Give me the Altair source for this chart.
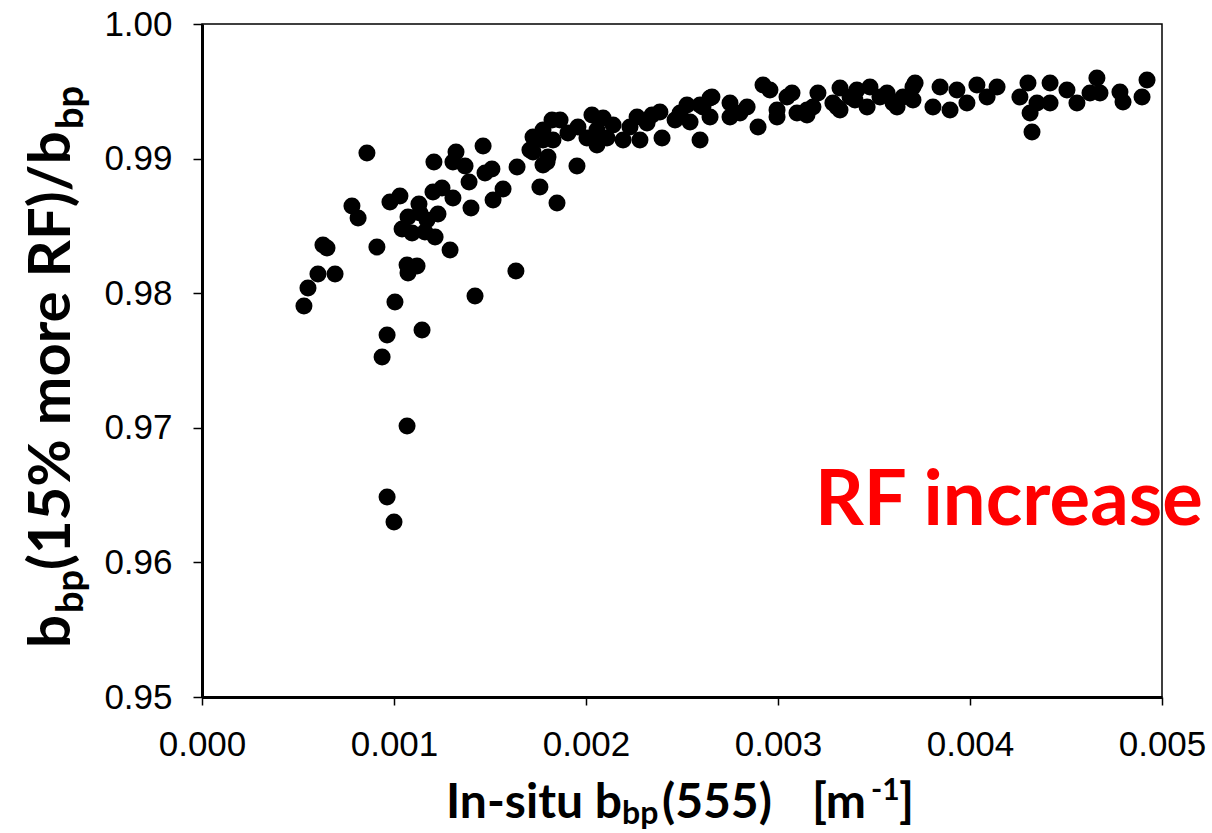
import altair as alt
import pandas as pd

# In-situ bbp(555) [m^-1]
x_vals = [
    0.000531, 0.000552, 0.000604, 0.000693, 0.000630, 0.000651, 0.000781, 0.000813, 0.000859, 0.000911,
    0.000938, 0.000964, 0.000964, 0.001000, 0.001068, 0.001005, 0.000979, 0.001031, 0.001068, 0.001120,
    0.001073, 0.001042, 0.001094, 0.001161, 0.001214, 0.001073, 0.001135, 0.001229, 0.001172, 0.001130,
    0.001146, 0.001203, 0.001250, 0.001307, 0.001208, 0.001323, 0.001307, 0.001370, 0.001391, 0.001401,
    0.001292, 0.001422, 0.001464, 0.001510, 0.001474, 0.001516, 0.001568, 0.001641, 0.001635, 0.001724,
    0.001776, 0.001797, 0.001760, 0.001849, 0.001708, 0.001724, 0.001776, 0.001823, 0.001865, 0.001906,
    0.001958, 0.001828, 0.001802, 0.001776, 0.001953, 0.002005, 0.002031, 0.002057, 0.002057, 0.002089,
    0.002109, 0.002141, 0.002193, 0.002229, 0.002266, 0.002281, 0.002318, 0.002344, 0.002385, 0.002396,
    0.002464, 0.002490, 0.002526, 0.002542, 0.002594, 0.002646, 0.002594, 0.002656, 0.002609, 0.002646,
    0.002750, 0.002750, 0.002802, 0.002839, 0.002896, 0.002922, 0.002958, 0.002995, 0.002995, 0.003047,
    0.003073, 0.003099, 0.003151, 0.003151, 0.003182, 0.003208, 0.003307, 0.003323, 0.003323, 0.003286,
    0.003375, 0.003401, 0.003411, 0.003479, 0.003464, 0.003531, 0.003568, 0.003599, 0.003620, 0.003651,
    0.003703, 0.003714, 0.003703, 0.003807, 0.003844, 0.003896, 0.003932, 0.003984, 0.004036, 0.004089,
    0.004141, 0.004260, 0.004302, 0.004313, 0.004323, 0.004349, 0.004417, 0.004417, 0.004505, 0.004557,
    0.004625, 0.004661, 0.004677, 0.004781, 0.004797, 0.004922, 0.004896,
]

# bbp(15% more RF)/bbp
y_vals = [
    0.97905, 0.98039, 0.98142, 0.98142, 0.98358, 0.98336, 0.98648, 0.98559, 0.99042, 0.98343,
    0.97526, 0.97689, 0.96486, 0.96300, 0.97013, 0.97934, 0.98677, 0.98722, 0.98209, 0.98202,
    0.98150, 0.98477, 0.98447, 0.98455, 0.98417, 0.98566, 0.98596, 0.98588, 0.98544, 0.98663,
    0.97726, 0.98752, 0.98781, 0.98707, 0.98975, 0.99049, 0.98975, 0.98945, 0.98826, 0.98633,
    0.98321, 0.97979, 0.99094, 0.98923, 0.98893, 0.98692, 0.98774, 0.98938, 0.98165, 0.99049,
    0.99138, 0.98975, 0.98789, 0.98670, 0.99064, 0.99160, 0.99212, 0.99287, 0.99287, 0.99190,
    0.99235, 0.99138, 0.99012, 0.98952, 0.98945, 0.99153, 0.99324, 0.99212, 0.99101, 0.99302,
    0.99153, 0.99250, 0.99138, 0.99235, 0.99309, 0.99138, 0.99264, 0.99324, 0.99346, 0.99153,
    0.99287, 0.99339, 0.99398, 0.99272, 0.99398, 0.99450, 0.99138, 0.99458, 0.99383, 0.99309,
    0.99413, 0.99309, 0.99339, 0.99383, 0.99235, 0.99547, 0.99510, 0.99361, 0.99309, 0.99458,
    0.99487, 0.99339, 0.99361, 0.99324, 0.99383, 0.99487, 0.99383, 0.99524, 0.99361, 0.99413,
    0.99458, 0.99435, 0.99510, 0.99532, 0.99383, 0.99458, 0.99487, 0.99413, 0.99383, 0.99458,
    0.99532, 0.99562, 0.99435, 0.99383, 0.99532, 0.99361, 0.99510, 0.99413, 0.99547, 0.99458,
    0.99532, 0.99458, 0.99562, 0.99339, 0.99198, 0.99413, 0.99562, 0.99413, 0.99510, 0.99413,
    0.99487, 0.99599, 0.99487, 0.99495, 0.99420, 0.99584, 0.99458,
]

x_ticks = [0.000, 0.001, 0.002, 0.003, 0.004, 0.005]
y_ticks = [0.95, 0.96, 0.97, 0.98, 0.99, 1.00]

annotation = "RF increase"

df = pd.DataFrame({"x": x_vals, "y": y_vals})

W, H = 960, 673
LEFT, TOP = 202, 24

axis_common = dict(
    grid=False,
    domainColor="black",
    domainWidth=3,
    tickColor="black",
    tickWidth=1.5,
    labelFont="Liberation Sans",
    labelFontSize=35,
    labelColor="black",
    title=None,
    labelFlush=False,
    labelOverlap=False,
    labelBound=False,
)

points = alt.Chart(df).mark_circle(size=290, color="black", opacity=1).encode(
    x=alt.X("x:Q", scale=alt.Scale(domain=[0, 0.005], nice=False, zero=False),
            axis=alt.Axis(values=x_ticks, format=".3f", tickSize=8, labelPadding=22, **axis_common)),
    y=alt.Y("y:Q", scale=alt.Scale(domain=[0.95, 1.0], nice=False, zero=False),
            axis=alt.Axis(values=y_ticks, format=".2f", tickSize=9, labelPadding=21, **axis_common)),
)


def txt(s, px, py, size, angle=0, color="black", bold=True, font="Lato"):
    props = dict(align="left", baseline="alphabetic", font=font, fontSize=size,
                 color=color, fontWeight="bold" if bold else "normal")
    if angle:
        props["angle"] = angle
    return alt.Chart(pd.DataFrame({"t": [s]})).mark_text(**props).encode(
        text="t:N",
        x=alt.value(px - LEFT),
        y=alt.value(py - TOP),
    )


red = txt(annotation, 815, 525, 76, color="#ff0000")

# x-axis title pieces: In-situ b_bp(555)   [m^-1]
xt = [
    txt("In-situ b", 446, 818, 48),
    txt("bp", 622, 824, 32),
    txt("(555)", 662, 818, 48),
    txt("[m", 812, 818, 48),
    txt("-1", 871, 800, 30),
    txt("]", 899, 818, 48),
]

# y-axis title pieces: b_bp(15% more RF)/b_bp
yt = [
    txt("b", 70, 648, 58, angle=270),
    txt("bp", 83, 613, 38, angle=270),
    txt("(15% more RF)/b", 70, 570, 58, angle=270),
    txt("bp", 83, 129, 38, angle=270),
]

chart = alt.layer(points, red, *xt, *yt).properties(
    width=W,
    height=H,
    autosize=alt.AutoSizeParams(type="none"),
    padding={"left": LEFT, "top": TOP, "right": 1212 - LEFT - W, "bottom": 833 - TOP - H},
    background="white",
).configure_view(stroke="black", strokeWidth=1.5)

chart.save("out.html", embed_options={"renderer": "svg", "actions": False})
